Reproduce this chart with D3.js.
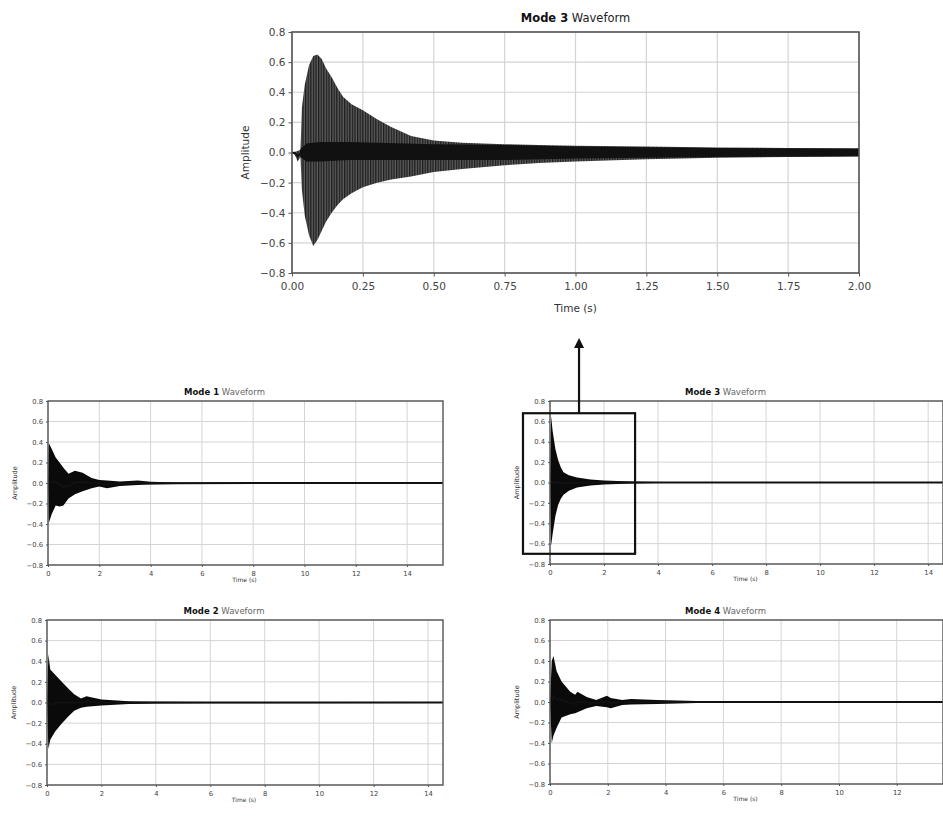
<!DOCTYPE html>
<html>
<head>
<meta charset="utf-8">
<script src="https://cdn.jsdelivr.net/npm/d3@7"></script>
<style>
  body { margin: 0; background: #fff; }
  svg { font-family: "DejaVu Sans", sans-serif; }
</style>
</head>
<body>
<svg width="943" height="816"></svg>
<script>
// envelope rows: [time (s), upper, lower]
var mode3Zoom = [
  [0.000, 0.000, 0.000], [0.010, 0.005, -0.015], [0.020, 0.010, -0.060], [0.030, 0.020, -0.030],
  [0.035, 0.300, -0.250], [0.045, 0.450, -0.420], [0.060, 0.580, -0.550], [0.075, 0.640, -0.620],
  [0.090, 0.650, -0.580], [0.105, 0.620, -0.520], [0.120, 0.560, -0.460], [0.140, 0.500, -0.400],
  [0.160, 0.430, -0.350], [0.180, 0.370, -0.310], [0.210, 0.320, -0.270], [0.250, 0.280, -0.230],
  [0.300, 0.220, -0.200], [0.350, 0.170, -0.180], [0.420, 0.110, -0.160], [0.500, 0.080, -0.130],
  [0.600, 0.065, -0.110], [0.750, 0.055, -0.085], [0.870, 0.050, -0.070], [1.000, 0.045, -0.060],
  [1.250, 0.040, -0.045], [1.500, 0.033, -0.035], [1.750, 0.030, -0.030], [2.000, 0.028, -0.027]
];
// dense dark core of the zoomed Mode 3 trace
var mode3ZoomCore = [
  [0.030, 0.020, -0.030], [0.050, 0.060, -0.060], [0.100, 0.070, -0.060], [0.200, 0.070, -0.050],
  [0.300, 0.065, -0.050], [0.500, 0.055, -0.050], [0.750, 0.050, -0.050], [1.000, 0.040, -0.040],
  [1.500, 0.030, -0.030], [2.000, 0.025, -0.025]
];
var mode1 = [
  [0.00, 0.00, 0.00], [0.03, 0.39, -0.39], [0.15, 0.33, -0.30], [0.30, 0.25, -0.22],
  [0.45, 0.20, -0.23], [0.60, 0.15, -0.22], [0.80, 0.09, -0.15], [1.05, 0.12, -0.11],
  [1.35, 0.10, -0.08], [1.70, 0.05, -0.05], [2.00, 0.03, -0.035], [2.30, 0.025, -0.05],
  [2.80, 0.015, -0.03], [3.50, 0.025, -0.02], [4.00, 0.012, -0.015], [5.00, 0.006, -0.01],
  [8.00, 0.004, -0.006], [15.40, 0.004, -0.006]
];
var mode2 = [
  [0.00, 0.00, 0.00], [0.05, 0.47, -0.45], [0.12, 0.32, -0.36], [0.30, 0.27, -0.28],
  [0.55, 0.20, -0.20], [0.80, 0.13, -0.13], [1.00, 0.08, -0.08], [1.25, 0.04, -0.05],
  [1.45, 0.06, -0.04], [2.00, 0.03, -0.03], [3.00, 0.012, -0.015], [4.00, 0.008, -0.01],
  [6.00, 0.005, -0.007], [14.55, 0.004, -0.005]
];
var mode3 = [
  [0.00, 0.00, 0.00], [0.04, 0.65, -0.62], [0.10, 0.50, -0.50], [0.20, 0.33, -0.33],
  [0.30, 0.22, -0.22], [0.40, 0.15, -0.16], [0.50, 0.10, -0.12], [0.70, 0.07, -0.08],
  [1.00, 0.05, -0.05], [1.50, 0.03, -0.03], [2.00, 0.02, -0.02], [3.00, 0.01, -0.01],
  [4.00, 0.006, -0.006], [14.55, 0.004, -0.005]
];
var mode4 = [
  [0.00, 0.00, 0.00], [0.06, 0.40, -0.40], [0.12, 0.45, -0.33], [0.23, 0.30, -0.25],
  [0.40, 0.20, -0.15], [0.70, 0.10, -0.12], [0.87, 0.07, -0.11], [0.95, 0.10, -0.10],
  [1.27, 0.05, -0.06], [1.60, 0.02, -0.04], [1.97, 0.06, -0.05], [2.10, 0.04, -0.06],
  [2.50, 0.02, -0.03], [2.80, 0.03, -0.025], [3.70, 0.02, -0.02], [4.40, 0.015, -0.015],
  [5.40, 0.008, -0.008], [7.20, 0.005, -0.005], [13.60, 0.004, -0.005]
];

var ampTicks = [-0.8, -0.6, -0.4, -0.2, 0.0, 0.2, 0.4, 0.6, 0.8];
var zoomTimeTicks = [0, 0.25, 0.5, 0.75, 1.0, 1.25, 1.5, 1.75, 2.0];
var fullTimeTicks = [0, 2, 4, 6, 8, 10, 12, 14];

var svg = d3.select("svg");
var defs = svg.append("defs");

// striped fill for the zoomed panel (individual oscillations)
var pat = defs.append("pattern")
    .attr("id", "stripes")
    .attr("patternUnits", "userSpaceOnUse")
    .attr("width", 2.6)
    .attr("height", 10);
pat.append("rect").attr("width", 2.6).attr("height", 10).attr("fill", "#5c5c5c");
pat.append("rect").attr("width", 1.3).attr("height", 10).attr("fill", "#1e1e1e");

var panels = [
  {id: "zoom", mode: 3, data: mode3Zoom, core: mode3ZoomCore, xMax: 2, ticks: zoomTimeTicks, xFmt: ".2f",
   left: 292, top: 32, right: 859, bottom: 273, big: true, titleDx: 0},
  {id: "m1", mode: 1, data: mode1, xMax: 15.4, ticks: fullTimeTicks, xFmt: "d",
   left: 48, top: 401, right: 443, bottom: 565, titleDx: -21},
  {id: "m2", mode: 2, data: mode2, xMax: 14.55, ticks: fullTimeTicks, xFmt: "d",
   left: 47, top: 620, right: 443, bottom: 785, titleDx: -21},
  {id: "m3", mode: 3, data: mode3, xMax: 14.55, ticks: fullTimeTicks, xFmt: "d",
   left: 550, top: 401, right: 943, bottom: 564, titleDx: -21},
  {id: "m4", mode: 4, data: mode4, xMax: 13.6, ticks: fullTimeTicks.slice(0, 7), xFmt: "d",
   left: 550, top: 620, right: 943, bottom: 784, titleDx: -21}
];

var scales = {};

panels.forEach(function(p) {
  var w = p.right - p.left, h = p.bottom - p.top;
  var fs = p.big ? 10.5 : 6.8;
  var x = d3.scaleLinear().domain([0, p.xMax]).range([0, w]);
  var y = d3.scaleLinear().domain([-0.8, 0.8]).range([h, 0]);
  scales[p.id] = {x: x, y: y, p: p};

  var g = svg.append("g").attr("transform", "translate(" + p.left + "," + p.top + ")");

  defs.append("clipPath").attr("id", "clip-" + p.id)
    .append("rect").attr("width", w).attr("height", h);

  // grid
  g.append("g").selectAll("line").data(p.ticks).enter().append("line")
      .attr("x1", function(d) { return x(d); }).attr("x2", function(d) { return x(d); })
      .attr("y1", 0).attr("y2", h)
      .attr("stroke", "#d4d4d4").attr("stroke-width", p.big ? 1.2 : 1);
  g.append("g").selectAll("line").data(ampTicks).enter().append("line")
      .attr("y1", function(d) { return y(d); }).attr("y2", function(d) { return y(d); })
      .attr("x1", 0).attr("x2", w)
      .attr("stroke", "#d4d4d4").attr("stroke-width", p.big ? 1.2 : 1);

  var area = d3.area()
      .x(function(d) { return x(d[0]); })
      .y0(function(d) { return y(d[2]); })
      .y1(function(d) { return y(d[1]); });
  var mid = d3.line()
      .x(function(d) { return x(d[0]); })
      .y(function(d) { return y((d[1] + d[2]) / 2); });

  var wave = g.append("g").attr("clip-path", "url(#clip-" + p.id + ")");
  if (p.big) {
    wave.append("path").datum(p.data).attr("d", area).attr("fill", "url(#stripes)");
    wave.append("path").datum(p.core).attr("d", area).attr("fill", "#111");
    wave.append("path").datum(p.data).attr("d", mid)
        .attr("fill", "none").attr("stroke", "#111").attr("stroke-width", 2);
  } else {
    wave.append("path").datum(p.data).attr("d", area).attr("fill", "#0a0a0a");
    wave.append("path").datum(p.data).attr("d", mid)
        .attr("fill", "none").attr("stroke", "#111").attr("stroke-width", 2);
  }

  // axes
  var xAxis = d3.axisBottom(x).tickValues(p.ticks).tickFormat(d3.format(p.xFmt))
      .tickSize(p.big ? 3.5 : 2).tickPadding(p.big ? 6 : 4);
  var yAxis = d3.axisLeft(y).tickValues(ampTicks).tickFormat(d3.format(".1f"))
      .tickSize(p.big ? 3.5 : 2).tickPadding(3);
  var gx = g.append("g").attr("transform", "translate(0," + h + ")").call(xAxis);
  var gy = g.append("g").call(yAxis);
  [gx, gy].forEach(function(a) {
    a.select(".domain").remove();
    a.selectAll("line").attr("stroke", "#555");
    a.selectAll("text").attr("fill", "#444").style("font-size", fs + "px")
        .style("font-family", "DejaVu Sans, sans-serif");
  });

  // spines
  g.append("rect").attr("width", w).attr("height", h)
      .attr("fill", "none").attr("stroke", "#555").attr("stroke-width", p.big ? 1.6 : 1.4);

  // title
  var title = g.append("text")
      .attr("x", w / 2 + p.titleDx)
      .attr("y", p.big ? -10 : -6)
      .attr("text-anchor", "middle")
      .style("font-size", (p.big ? 11.5 : 8.5) + "px");
  title.append("tspan").attr("font-weight", "bold").attr("fill", "#111").text("Mode " + p.mode);
  title.append("tspan").attr("fill", p.big ? "#222" : "#666").text(" Waveform");

  // axis labels
  g.append("text")
      .attr("x", w / 2 + p.titleDx + (p.big ? 0 : 20))
      .attr("y", h + (p.big ? 39 : 17))
      .attr("text-anchor", "middle")
      .attr("fill", "#333")
      .style("font-size", (p.big ? 10.5 : 6) + "px")
      .text("Time (s)");
  g.append("text")
      .attr("transform", "translate(" + (p.big ? -43 : -31) + "," + (h / 2) + ") rotate(-90)")
      .attr("text-anchor", "middle")
      .attr("fill", "#333")
      .style("font-size", (p.big ? 10.5 : 6.5) + "px")
      .text("Amplitude");
});

// zoom box on small Mode 3 panel and arrow up to the zoomed panel
var s3 = scales.m3;
var bx0 = s3.p.left + s3.x(-1.0), bx1 = s3.p.left + s3.x(3.15);
var by0 = s3.p.top + s3.y(0.68), by1 = s3.p.top + s3.y(-0.70);
svg.append("rect")
    .attr("x", bx0).attr("y", by0)
    .attr("width", bx1 - bx0).attr("height", by1 - by0)
    .attr("fill", "none").attr("stroke", "#111").attr("stroke-width", 2.2);

var ax = (bx0 + bx1) / 2;
var tipY = 338;
svg.append("line")
    .attr("x1", ax).attr("x2", ax)
    .attr("y1", by0).attr("y2", tipY + 8)
    .attr("stroke", "#111").attr("stroke-width", 2.2);
svg.append("path")
    .attr("d", "M" + ax + "," + tipY + "L" + (ax - 5) + "," + (tipY + 10) + "L" + (ax + 5) + "," + (tipY + 10) + "Z")
    .attr("fill", "#111");
</script>
</body>
</html>
